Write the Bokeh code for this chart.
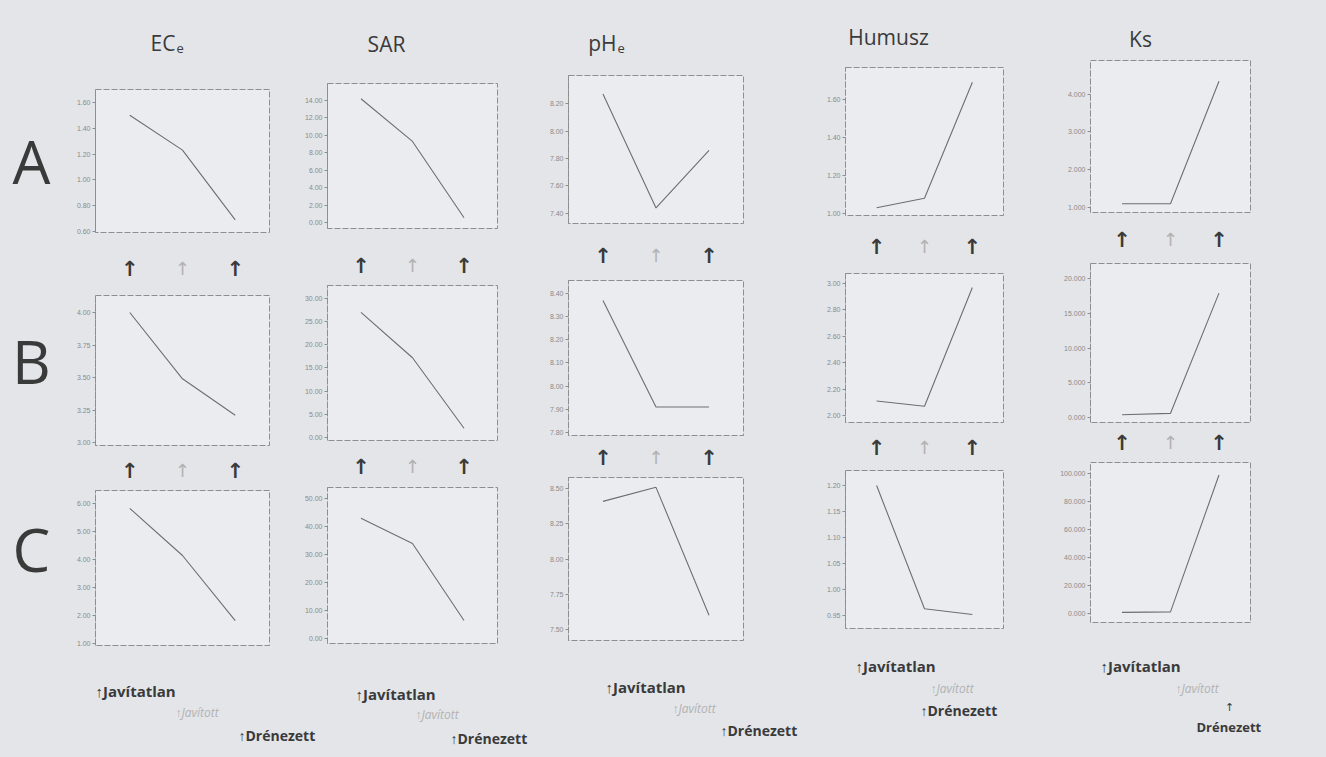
from bokeh.plotting import figure
from bokeh.layouts import row, column
from bokeh.models import Range1d, FixedTicker, PrintfTickFormatter
from bokeh.core.properties import value
from bokeh.embed import file_html
from bokeh.resources import INLINE

# ---------------- data ----------------
treatments = ["Javítatlan", "Javított", "Drénezett"]
x_pos = [1, 2, 3]
row_names = ["A", "B", "C"]
variables = ["ECe", "SAR", "pHe", "Humusz", "Ks"]

ece_a = [1.50, 1.23, 0.69]
ece_b = [4.00, 3.49, 3.21]
ece_c = [5.82, 4.14, 1.82]
sar_a = [14.2, 9.3, 0.55]
sar_b = [27.0, 17.2, 2.0]
sar_c = [42.9, 33.9, 6.4]
ph_a = [8.27, 7.44, 7.86]
ph_b = [8.37, 7.91, 7.91]
ph_c = [8.41, 8.51, 7.60]
hum_a = [1.03, 1.08, 1.69]
hum_b = [2.11, 2.07, 2.97]
hum_c = [1.20, 0.963, 0.952]
ks_a = [1.10, 1.10, 4.34]
ks_b = [0.4, 0.6, 17.9]
ks_c = [0.8, 1.2, 99.0]

ece_a_ticks = [0.6, 0.8, 1.0, 1.2, 1.4, 1.6]
ece_b_ticks = [3.0, 3.25, 3.5, 3.75, 4.0]
ece_c_ticks = [1, 2, 3, 4, 5, 6]
sar_a_ticks = [0, 2, 4, 6, 8, 10, 12, 14]
sar_b_ticks = [0, 5, 10, 15, 20, 25, 30]
sar_c_ticks = [0, 10, 20, 30, 40, 50]
ph_a_ticks = [7.4, 7.6, 7.8, 8.0, 8.2]
ph_b_ticks = [7.8, 7.9, 8.0, 8.1, 8.2, 8.3, 8.4]
ph_c_ticks = [7.5, 7.75, 8.0, 8.25, 8.5]
hum_a_ticks = [1.0, 1.2, 1.4, 1.6]
hum_b_ticks = [2.0, 2.2, 2.4, 2.6, 2.8, 3.0]
hum_c_ticks = [0.95, 1.0, 1.05, 1.10, 1.15, 1.20]
ks_a_ticks = [1, 2, 3, 4]
ks_b_ticks = [0, 5, 10, 15, 20]
ks_c_ticks = [0, 20, 40, 60, 80, 100]

# ---------------- layout / style ----------------
BG = "#e3e5e9"
PLOT_BG = "#eaecef"
DARK = "#3a3a3a"
GRAY = "#b2b2b2"
LINE = "#6e6e6e"
FRAME = "#8e8e8e"

W, H = 1326, 757
TOP_Y = 56      # y where the panel row starts
BOT_Y = 650     # y where the panel row ends
LEFT_X = 55     # x where the first panel column starts

cols = [
    dict(slot=(55, 292), frames=[(93, 269, 89, 232), (95, 270, 295, 445), (90, 278, 490, 645)],
         arrows=[268, 470], data=[ece_a, ece_b, ece_c],
         ranges=[(0.592, 1.70), (2.977, 4.131), (0.93, 6.46)],
         ticks=[ece_a_ticks, ece_b_ticks, ece_c_ticks], fmt="%.2f"),
    dict(slot=(292, 530), frames=[(322, 497, 83, 228), (323, 503, 285, 440), (327, 513, 487, 643)],
         arrows=[265, 466], data=[sar_a, sar_b, sar_c],
         ranges=[(-0.69, 15.95), (-0.65, 32.8), (-1.79, 53.9)],
         ticks=[sar_a_ticks, sar_b_ticks, sar_c_ticks], fmt="%.2f"),
    dict(slot=(530, 790), frames=[(563, 743, 75, 223), (568, 750, 280, 435), (565, 752, 477, 640)],
         arrows=[255, 457], data=[ph_a, ph_b, ph_c],
         ranges=[(7.327, 8.404), (7.787, 8.456), (7.42, 8.58)],
         ticks=[ph_a_ticks, ph_b_ticks, ph_c_ticks], fmt="%.2f"),
    dict(slot=(790, 1040), frames=[(827, 1003, 67, 215), (833, 1010, 273, 422), (845, 1022, 470, 628)],
         arrows=[246, 447], data=[hum_a, hum_b, hum_c],
         ranges=[(0.989, 1.768), (1.947, 3.076), (0.925, 1.229)],
         ticks=[hum_a_ticks, hum_b_ticks, hum_c_ticks], fmt="%.2f"),
    dict(slot=(1040, 1326), frames=[(1073, 1250, 60, 212), (1082, 1257, 263, 422), (1090, 1257, 462, 622)],
         arrows=[239, 442], data=[ks_a, ks_b, ks_c],
         ranges=[(0.87, 4.887), (-0.72, 22.16), (-6.4, 107.9)],
         ticks=[ks_a_ticks, ks_b_ticks, ks_c_ticks], fmt="%.3f"),
]

XR = (0.35, 3.65)
BGSTYLE = {"background-color": BG}


def blank(width, height, xr, yr, left=0, right=0, top=0, bottom=0):
    p = figure(width=width, height=height, x_range=Range1d(*xr), y_range=Range1d(*yr),
               toolbar_location=None, output_backend="svg",
               x_axis_location=None, y_axis_location=None,
               min_border_left=left, min_border_right=right,
               min_border_top=top, min_border_bottom=bottom)
    p.grid.visible = False
    p.outline_line_color = None
    p.background_fill_color = BG
    p.border_fill_color = BG
    p.styles = BGSTYLE
    return p


def panel(slot, frame, fig_top, fig_bot, yr, ticks, fmt, vals):
    fl, fr, ft, fb = frame
    p = figure(width=slot[1] - slot[0], height=fig_bot - fig_top,
               x_range=Range1d(*XR), y_range=Range1d(*yr),
               toolbar_location=None, output_backend="svg", x_axis_location=None,
               min_border_left=fl - slot[0], min_border_right=slot[1] - fr,
               min_border_top=ft - fig_top, min_border_bottom=fig_bot - fb)
    p.grid.visible = False
    p.background_fill_color = PLOT_BG
    p.border_fill_color = BG
    p.styles = BGSTYLE
    p.outline_line_color = FRAME
    p.outline_line_dash = "6 2"
    p.outline_line_width = 1
    ax = p.yaxis[0]
    ax.ticker = FixedTicker(ticks=ticks)
    ax.formatter = PrintfTickFormatter(format=fmt)
    ax.axis_line_color = FRAME
    ax.axis_line_dash = "6 2"
    ax.major_tick_line_color = FRAME
    ax.major_tick_out = 3
    ax.major_tick_in = 0
    ax.minor_tick_line_color = None
    ax.major_label_text_font_size = "7px"
    ax.major_label_text_color = "#8a8a8a"
    ax.major_label_text_font = "Liberation Sans"
    ax.major_label_standoff = 2
    p.line(x_pos, vals, line_color=LINE, line_width=1.1)
    return p


def arrows(slot, frame, fig_top, fig_bot, ay):
    fl, fr, ft, fb = frame
    p = blank(slot[1] - slot[0], fig_bot - fig_top, XR, (fig_bot, fig_top),
              left=fl - slot[0], right=slot[1] - fr)
    p.text(x=[x_pos[0], x_pos[2]], y=[ay, ay], text=["↑", "↑"], text_color=DARK,
           text_font=value("DejaVu Sans"), text_font_style="bold", text_font_size="21px",
           text_align="center", text_baseline="middle")
    p.text(x=[x_pos[1]], y=[ay], text=["↑"], text_color=GRAY,
           text_font=value("DejaVu Sans"), text_font_size="18px",
           text_align="center", text_baseline="middle")
    return p


GAP = 4
col_layouts = []
for c in cols:
    slot = c["slot"]
    fr_a, fr_b, fr_c = c["frames"]
    a_top, a_bot = TOP_Y, fr_a[3] + GAP
    b_top, b_bot = fr_b[2] - GAP, fr_b[3] + GAP
    c_top, c_bot = fr_c[2] - GAP, BOT_Y
    figs = [
        panel(slot, fr_a, a_top, a_bot, c["ranges"][0], c["ticks"][0], c["fmt"], c["data"][0]),
        arrows(slot, fr_a, a_bot, b_top, c["arrows"][0]),
        panel(slot, fr_b, b_top, b_bot, c["ranges"][1], c["ticks"][1], c["fmt"], c["data"][1]),
        arrows(slot, fr_b, b_bot, c_top, c["arrows"][1]),
        panel(slot, fr_c, c_top, c_bot, c["ranges"][2], c["ticks"][2], c["fmt"], c["data"][2]),
    ]
    col_layouts.append(column(*figs, spacing=0, styles=BGSTYLE))

# row letters
letters = blank(LEFT_X, BOT_Y - TOP_Y, (0, LEFT_X), (BOT_Y, TOP_Y))
letters.text(x=[31, 31, 31], y=[160, 360, 548], text=row_names, text_color=DARK,
             text_font=value("Open Sans"), text_font_size="60px",
             text_align="center", text_baseline="middle")

# column titles
titles = blank(W, TOP_Y, (0, W), (TOP_Y, 0))
titles.text(x=[175, 616], y=[42, 42], text=["EC", "pH"], text_color=DARK,
            text_font=value("Open Sans"), text_font_size="21px",
            text_align="right", text_baseline="middle")
titles.text(x=[176, 617], y=[48, 48], text=["e", "e"], text_color=DARK,
            text_font=value("Open Sans"), text_font_size="13px",
            text_align="left", text_baseline="middle")
titles.text(x=[386, 888, 1140], y=[43, 36, 38], text=["SAR", "Humusz", "Ks"], text_color=DARK,
            text_font=value("Open Sans"), text_font_size="21px",
            text_align="center", text_baseline="middle")

# bottom legends
legend = blank(W, H - BOT_Y, (0, W), (H, BOT_Y))
jav_x = [95, 355, 605, 855, 1100]
jav_y = [690, 693, 686, 665, 665]
jt_x = [175, 415, 672, 930, 1175]
jt_y = [712, 714, 708, 688, 688]
dr_x = [238, 450, 720, 920]
dr_y = [735, 738, 730, 710]
legend.text(x=jav_x, y=jav_y, text=["↑" + treatments[0]] * 5, text_color=DARK,
            text_font=value("Open Sans"), text_font_style="bold", text_font_size="15px",
            text_align="left", text_baseline="middle")
legend.text(x=jt_x, y=jt_y, text=["↑" + treatments[1]] * 5, text_color=GRAY,
            text_font=value("Open Sans"), text_font_style="italic", text_font_size="12px",
            text_align="left", text_baseline="middle")
legend.text(x=dr_x, y=dr_y, text=["↑" + treatments[2]] * 4, text_color=DARK,
            text_font=value("Open Sans"), text_font_style="bold", text_font_size="14px",
            text_align="left", text_baseline="middle")
legend.text(x=[1229], y=[707], text=["↑"], text_color=DARK,
            text_font=value("DejaVu Sans"), text_font_size="11px",
            text_align="center", text_baseline="middle")
legend.text(x=[1196], y=[726], text=[treatments[2]], text_color=DARK,
            text_font=value("Open Sans"), text_font_style="bold", text_font_size="13px",
            text_align="left", text_baseline="middle")

layout = column(titles, row(letters, *col_layouts, spacing=0, styles=BGSTYLE), legend,
                spacing=0, styles=BGSTYLE)

open("out.html", "w").write(file_html(layout, INLINE))
